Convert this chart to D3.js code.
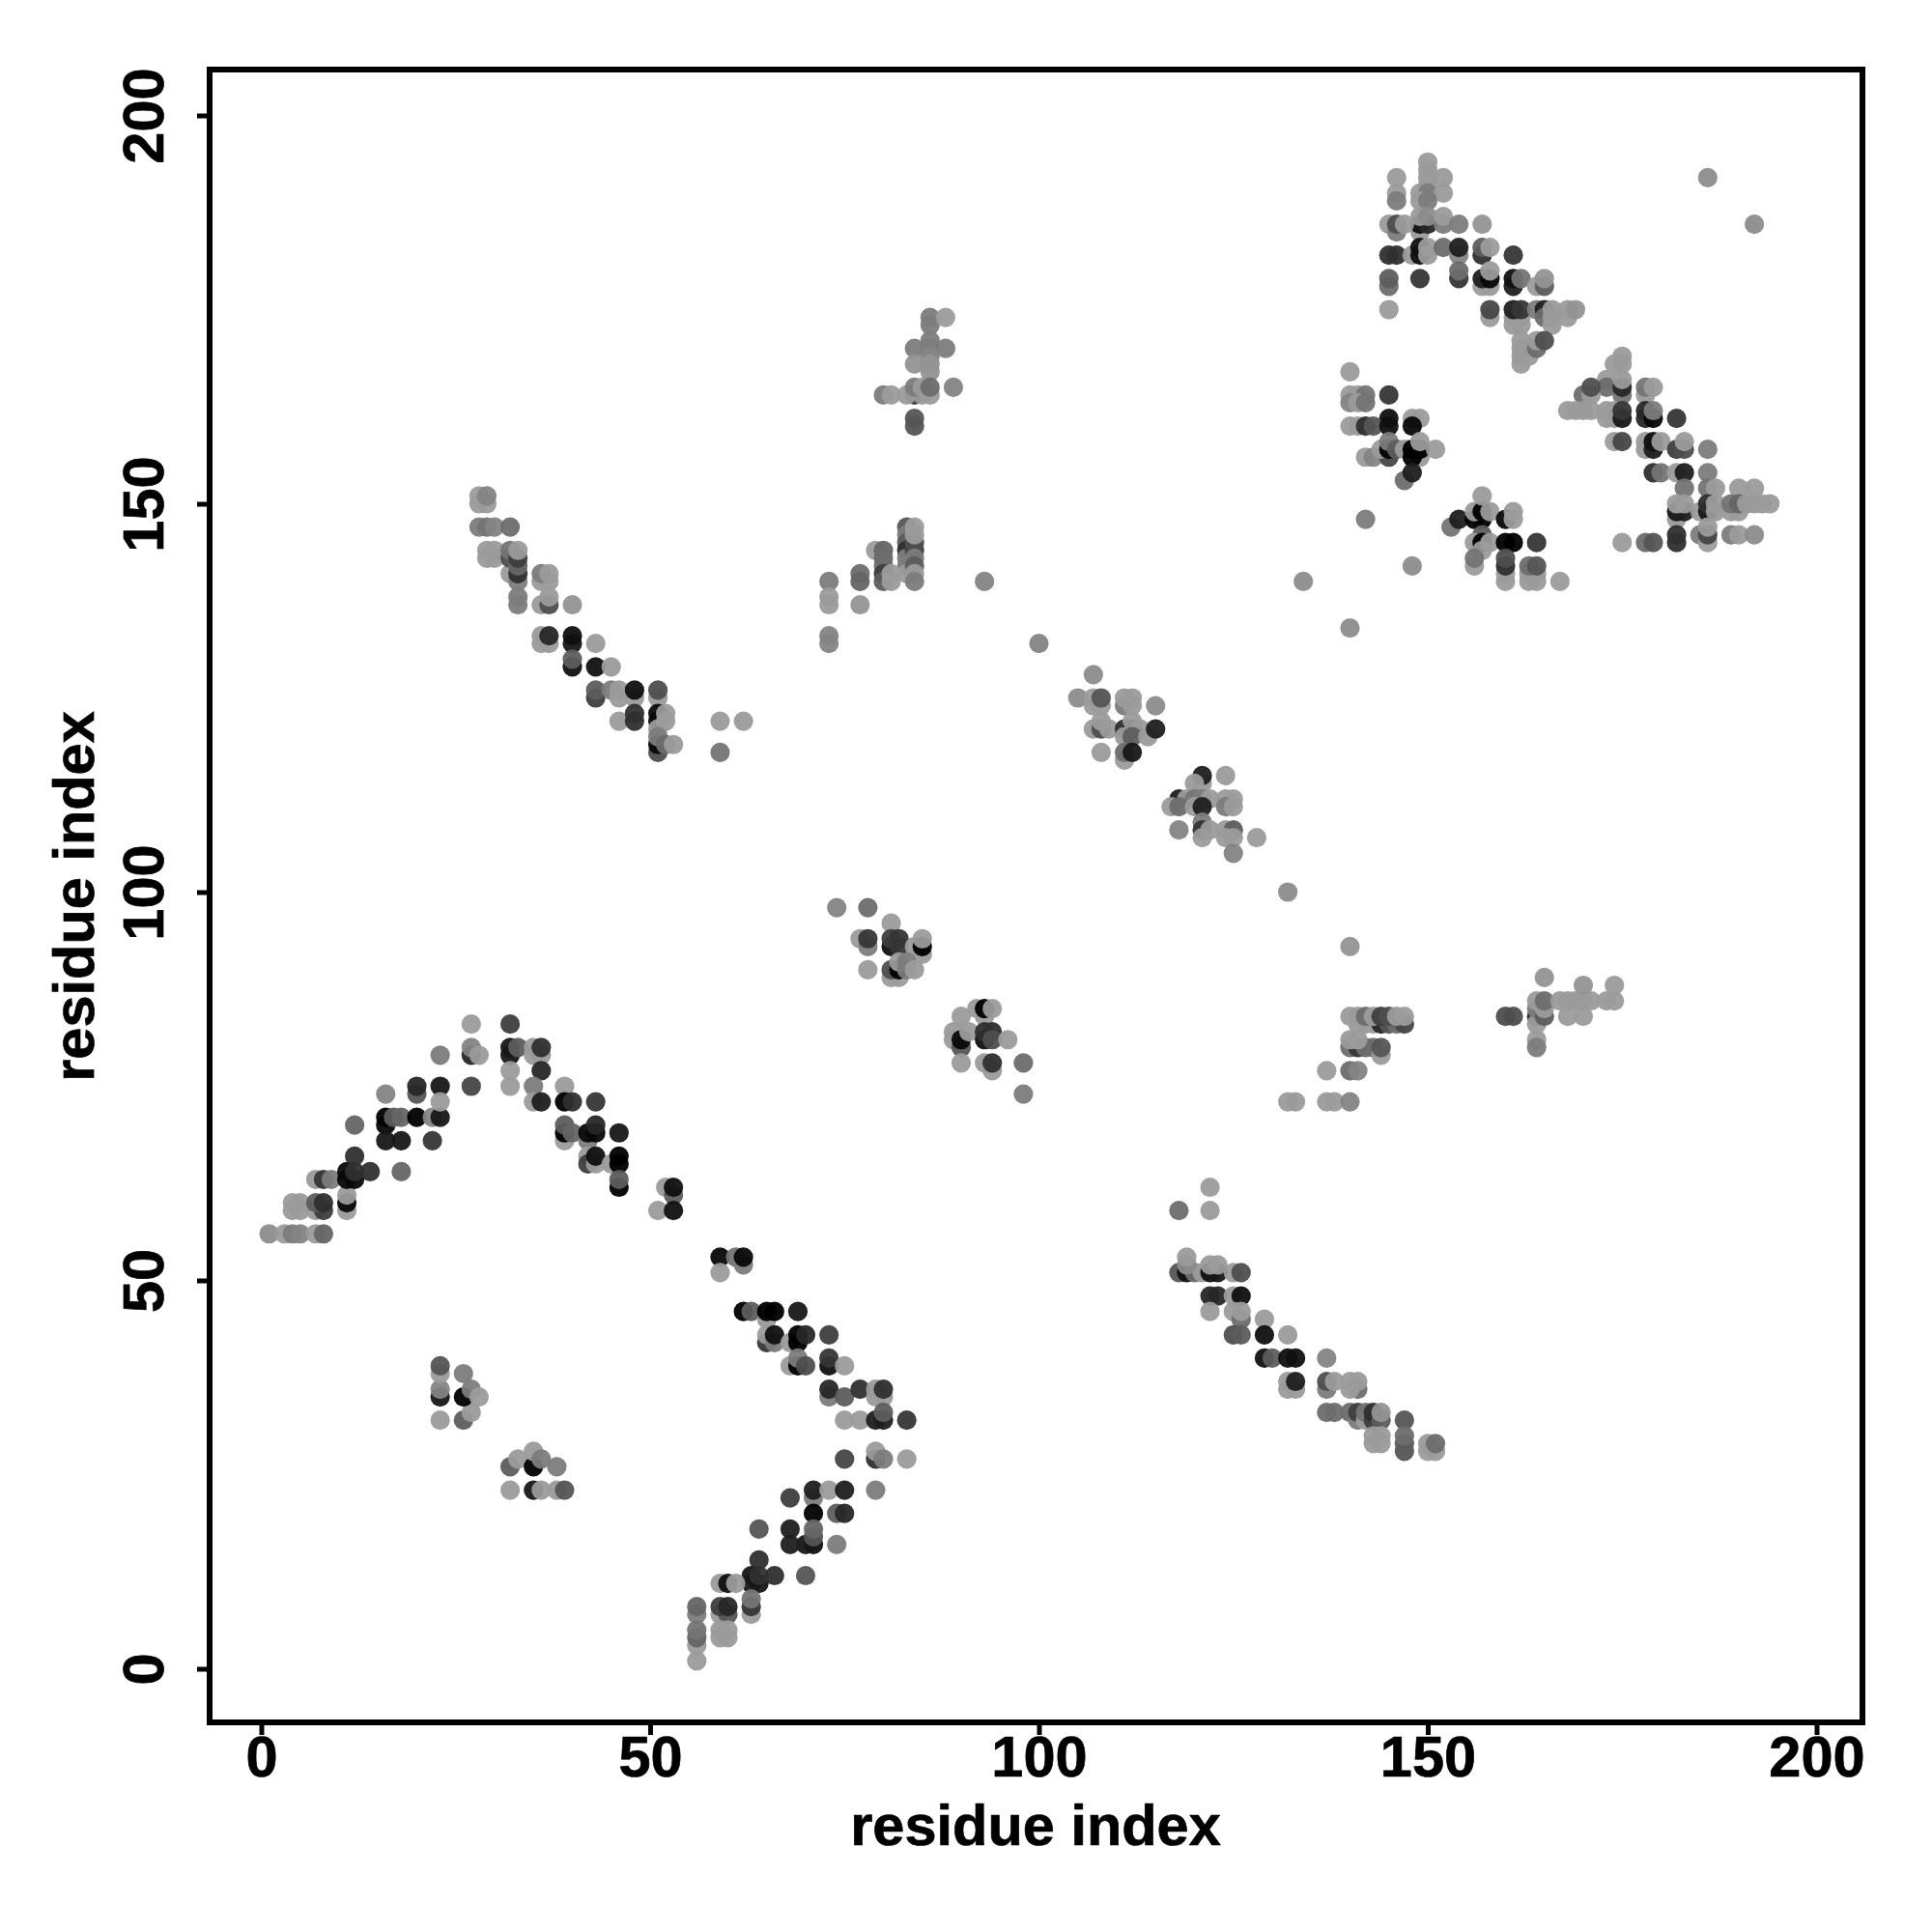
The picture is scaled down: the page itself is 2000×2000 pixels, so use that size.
<!DOCTYPE html>
<html><head><meta charset="utf-8">
<script src="https://cdn.jsdelivr.net/npm/d3@7"></script>
<style>html,body{margin:0;background:#fff}svg{display:block}text{font-family:"Liberation Sans",Arial,sans-serif;font-weight:700;fill:#000;stroke:#000;stroke-width:.7px}</style>
</head><body><div id="c"></div>
<script>
// each entry: [residue i, residue j, contact strength 0..1]
const armLowerLeft=[[1,56,.1],[3,56,0],[4,56,.2],[5,56,.15],[7,56,0],[8,56,.35],
[4,60,0],[5,60,0],[4,59,0],[5,59,0],[7,59,0],[8,59,.6],[7,60,.4],[8,60,.7],[11,59,0],[11,60,.95],[11,61,0],
[7,63,0],[8,63,.65],[9,63,.2],[11,63,.95],[11,64,.95],[12,63,.95],[12,64,.7],[12,66,.7],[14,64,.7],[18,64,.35],[12,70,.35],
[16,70,.95],[16,71,1],[17,71,.4],[18,71,.35],[20,71,1],[22,71,.15],[23,71,.85],[16,68,.85],[18,68,.85],[22,68,.65],[16,74,.15],
[20,74,.45],[20,75,.75],[23,75,.85],[23,73,0],[27,75,.55],[23,79,.2],[27,79,.75],[27,80,.15],[28,79,0],[27,83,0],
[32,83,.6],[32,79,.85],[32,80,.85],[33,80,.4],[35,79,0],[36,79,0],[35,80,0],[36,80,.7],[32,77,0],[36,77,.75],[32,75,0],[35,75,.2],[39,75,0],
[35,73,0],[36,73,.8],[39,73,1],[40,73,.7],[43,73,.65],[39,68,0],[39,69,1],[39,70,.4],[40,69,.35],[42,68,.2],[42,69,.95],[43,69,.95],[43,70,.75],[46,69,.85],
[42,66,0],[42,65,.6],[43,65,0],[43,66,.9],[45,65,0],[46,66,1],[46,65,1],[46,62,1],[46,63,.4],[52,62,0],[53,61,.4],[53,62,.9],[51,59,0],[53,59,.9]];
const armLowerMiddle=[[59,53,.95],[61,53,.25],[62,52,.2],[62,53,.95],[59,51,0],
[62,46,1],[63,46,.4],[65,45,0],[65,46,1],[66,46,1],[69,46,.85],[65,42,.65],[65,43,0],[66,42,.2],[66,43,.9],[68,42,0],[69,42,1],[69,43,1],[70,43,.75],[73,43,.6],
[68,39,0],[69,39,1],[69,40,.2],[70,39,.5],[73,39,.9],[73,40,.65],[75,39,0],[73,35,.2],[73,36,.75],[75,35,.4],[77,36,.7],[79,35,0],[79,36,0],[80,35,0],[80,36,.7],
[75,32,0],[77,32,0],[79,32,.8],[80,32,.8],[80,33,.4],[83,32,.65],[75,27,.55],[79,27,.7],[79,28,0],[80,27,.2],[83,27,0],
[71,22,.2],[71,23,.8],[73,23,0],[75,23,.8],[79,23,.2],[68,22,.6],[71,20,1],[74,20,.4],[75,20,.75],[64,18,.45],[68,18,.8],[71,16,.9],[70,16,.85],[71,17,.45],[71,18,.35],[68,16,.8],[74,16,.2],
[64,14,.7],[63,11,.85],[64,11,.85],[63,12,.85],[64,12,.7],[66,12,.7],[70,12,.45],[59,11,0],[60,11,.9],[61,11,0],[63,7,0],[63,8,.65],[63,9,.25],
[59,7,0],[60,7,.45],[59,8,.6],[60,8,.75],[56,7,.2],[56,8,.35],[56,3,0],[56,4,.35],[56,5,.25],[59,4,0],[60,4,0],[59,5,0],[60,5,0],[56,1,0]];
const patchLowerA=[[23,32,0],[23,35,.85],[23,36,.15],[23,38,0],[23,39,.45],[26,38,.2],[26,32,.4],[27,33,0],[26,35,1],[27,36,.2],[28,35,0]];
const patchLowerB=[[32,26,.4],[33,27,0],[32,23,0],[35,26,1],[35,28,0],[36,27,.2],[38,26,.2],[35,23,.85],[36,23,0],[38,23,0],[39,23,.45]];
const armUpperLeft=[[28,150,0],[29,150,0],[28,151,0],[29,151,.15],[28,147,.2],[29,147,.25],[30,147,.15],[32,147,.3],
[29,143,0],[30,143,0],[29,144,0],[30,144,0],[32,141,0],[32,143,.5],[32,144,.25],[33,140,.2],[33,141,.7],[33,142,.35],[33,143,.6],[33,144,0],[33,137,.2],[33,138,.2],
[36,140,0],[37,140,0],[36,141,.2],[37,141,0],[36,137,0],[37,137,.5],[37,138,0],[40,137,.05],[36,132,0],[37,132,0],[36,133,0],[37,133,.75],[40,132,.85],[40,133,.9],[43,132,0],
[40,129,.9],[40,130,.4],[43,129,.9],[45,129,0],[43,125,.6],[43,126,.4],[45,126,.2],[46,125,0],[46,126,0],[48,125,0],[48,126,.9],[51,125,0],[51,126,.5],
[46,122,0],[48,122,.7],[48,123,.7],[51,122,.95],[51,123,.95],[52,122,0],[52,123,0],[59,122,0],[62,122,0],[51,121,0],[51,118,.5],[51,119,.95],[51,120,.2],[52,119,.3],[53,119,0],[59,118,.25]];
const patchUpperMiddleTop=[[86,174,.2],[86,173,.2],[88,174,0],[86,171,.2],[86,170,.2],[84,170,.2],[88,170,.2],[86,169,.15],[84,168,.05],[86,168,.05],[86,167,.05],[84,164,.65],[80,164,.2],[81,164,0],[83,164,0],[85,164,0],[86,164,0],[84,165,.2],[85,165,0],[86,165,.3],[89,165,.15],[84,161,.45],[84,160,.45]];
const patchUpperMiddleLow=[[83,147,.45],[83,146,.2],[83,145,.4],[83,144,.7],[83,143,.2],[83,142,.2],[83,141,0],[84,144,.6],[84,145,.5],[84,143,.2],[84,142,.4],[84,141,0],[84,140,.2],[84,146,0],[84,147,0],
[79,144,0],[80,144,.35],[80,143,.3],[80,142,.3],[80,141,.6],[80,140,.4],[81,141,0],[81,140,0],[77,141,.3],[77,140,.35],[77,137,.05],[73,140,.2],[73,138,0],[73,137,0],[73,133,.15],[73,132,.15],[93,140,.15]];
const singles=[[100,132,.15],[132,100,.1],[134,140,.1],[140,134,.1],[140,93,.05],[142,148,.2],[148,142,.1],[186,192,.1],[192,186,.1]];
const patchCentreA=[[107,128,.1],[105,125,.1],[107,125,0],[107,124,0],[108,124,0],[108,125,.45],[111,124,.2],[111,125,0],[112,125,0],[112,124,0],[115,124,.1],[107,121,0],[108,121,.5],[108,122,0],[109,121,0],[111,121,.7],[112,121,1],[112,122,0],[113,121,0],[111,120,0],[112,120,.4],[114,120,0],[115,121,.8],[108,118,0],[111,117,0],[111,118,.3],[112,118,.85]];
const patchCentreB=[[121,114,0],[121,115,.8],[124,115,0],[120,114,0],[118,112,.8],[119,112,0],[120,112,.25],[121,112,.2],[122,112,0],[124,112,0],[125,112,0],[117,111,0],[118,111,.3],[120,111,0],[121,111,.8],[124,111,.2],[125,111,0],[121,109,.2],[118,108,.15],[121,108,.65],[122,108,0],[124,108,0],[125,108,.4],[128,107,0],[121,107,0],[124,107,0],[125,107,0],[125,105,.15]];
const patchMiddleA=[[74,98,.15],[78,98,.3],[81,96,0],[77,94,0],[78,93,.2],[78,94,.65],[81,93,.9],[81,94,.6],[82,94,.65],[82,93,.65],[84,93,0],[85,92,0],[85,93,1],[85,94,0],[81,89,0],[82,89,0],[78,90,0],[81,90,.5],[82,90,1],[82,91,0],[83,90,.2],[83,91,.2],[84,90,0]];
const patchMiddleB=[[92,85,0],[93,84,0],[93,85,1],[94,85,0],[90,84,0],[89,81,0],[89,82,0],[90,80,.45],[90,81,.95],[91,82,0],[93,81,.9],[93,82,.7],[94,82,.7],[94,81,.5],[96,81,0],[90,78,0],[93,78,0],[94,77,0],[94,78,.7],[98,78,.3],[98,74,.2]];
const armMiddleRight=[[118,59,.3],[122,59,0],[122,62,0],[118,51,.45],[119,51,.9],[120,51,.3],[121,51,0],[122,51,.9],[123,51,.85],[125,51,0],[126,51,.5],[119,52,.1],[119,53,0],[122,52,0],[123,52,0],
[122,48,.75],[123,48,.75],[125,48,0],[126,48,.9],[122,46,0],[125,46,0],[126,45,.3],[126,46,0],[125,43,.5],[126,43,.4],[129,45,0],[129,43,.9],[132,43,0],
[129,40,.9],[130,40,.4],[132,40,.9],[133,40,.9],[137,40,.15],[132,36,0],[133,36,0],[132,37,0],[133,37,.8],[137,36,.2],[137,37,.5],[138,37,0],[141,36,.3],[140,36,0],[140,37,0],[141,37,0],
[137,33,.3],[138,33,.3],[140,33,.3],[141,32,.2],[141,33,.6],[142,32,0],[142,33,.25],[143,32,.6],[143,33,.7],[144,32,.4],[144,33,.05],[147,32,.45],[143,30,0],[144,30,0],[143,29,0],[144,29,0],[147,28,.45],[147,29,.4],[147,30,.3],[150,28,0],[151,28,0],[150,29,0],[151,29,.3]];
const patchRightA=[[133,73,0],[132,73,0],[137,73,0],[138,73,0],[140,73,.15],[137,77,0],[140,77,.3],[141,77,.15],[140,80,.3],[141,80,.65],[142,80,.3],[143,80,.3],[144,79,0],[144,80,.45],[140,81,0],[141,81,0],
[141,83,0],[142,83,0],[143,83,0],[144,83,.75],[145,83,.45],[146,83,.3],[147,83,.55],[140,84,0],[141,84,0],[142,84,.3],[143,84,0],[144,84,.6],[145,84,.5],[146,84,0],[147,84,0]];
const patchRightB=[[160,84,.5],[161,84,.5],[164,84,.7],[164,83,0],[164,81,0],[164,80,.2],[164,85,.2],[164,86,0],[165,84,.4],[165,85,0],[165,86,.3],[165,89,.05],[167,86,0],[168,86,0],[169,86,0],[170,86,0],[171,86,0],[173,86,0],[174,86,0],[168,84,0],[170,84,0],[170,88,.05],[174,88,0]];
const patchUpperRightTop=[[150,194,0],[150,193,0],[146,192,0],[150,192,0],[152,192,0],[150,191,0],[146,190,0],[149,190,0],[150,190,.2],[152,190,0],[146,189,.2],[149,189,0],[150,189,.2],[149,185,0],[149,186,.9],[150,186,.75],[149,187,0],[150,187,.1],[152,186,.2],[152,187,0],[145,186,0],[146,185,.2],[146,186,.5],[147,186,0],[154,186,.2],[157,186,.05],
[145,182,.7],[146,182,.7],[148,182,0],[149,182,.9],[149,183,.9],[150,182,0],[150,183,0],[152,183,.3],[154,182,.15],[154,183,.8],[157,182,.7],[157,183,.4],[158,183,0],[161,182,.65],[145,178,.3],[145,179,.4],[149,179,.65],[154,179,.65],[154,180,.3],[157,178,0],[158,178,0],[157,179,.8],[158,179,.95],[158,180,0],[161,178,.8],[161,179,.9],[162,179,.25],[164,178,0],[165,178,.4],[165,179,.05],[145,175,0]];
const patchUpperRightLow=[[158,174,0],[158,175,.55],[161,173,0],[162,173,0],[161,174,0],[162,174,0],[161,175,.8],[162,175,.65],[164,175,.2],[165,175,.8],[165,174,.3],[166,173,0],[166,174,0],[166,175,0],[168,174,0],[168,175,0],[169,175,.05],[162,171,0],[162,170,0],[162,169,0],[162,168,0],[163,169,0],[164,170,.3],[164,171,0],[165,171,.5]];
const patchDiagonalFar=[[175,169,0],[174,168,0],[175,168,0],[173,166,0],[173,165,.3],[175,164,.25],[175,165,.75],[175,166,0],[170,164,.3],[171,164,0],[171,165,.5],[178,164,0],[178,165,.25],[179,165,0],
[168,162,0],[169,162,0],[170,162,0],[171,162,0],[173,162,0],[174,162,0],[173,161,0],[174,161,0],[175,161,.85],[175,162,.65],[178,161,.75],[178,162,.75],[179,161,.95],[179,162,.2],[182,161,.65],
[174,158,0],[175,158,.55],[178,157,0],[178,158,0],[179,157,.8],[179,158,.9],[180,158,0],[182,157,.6],[183,157,.5],[183,158,0],[186,157,.2],
[179,154,.7],[180,154,.25],[182,154,0],[183,154,.8],[186,154,.2],[183,152,.25],[186,152,.25],[187,152,0],[190,152,0],[192,152,0]];
const patchFarRight=[[182,148,0],[182,149,.85],[183,149,.8],[182,150,0],[183,150,0],[185,149,0],[186,149,.85],[186,150,.7],[187,149,0],[187,150,0],[189,149,0],[190,149,0],[189,150,.25],[190,150,.35],[191,150,0],[192,150,0],[193,150,0],[194,150,0],
[175,145,0],[178,145,.3],[179,145,.45],[182,145,.7],[182,146,.7],[185,146,.2],[186,145,0],[186,146,.55],[186,147,0],[189,146,.2],[190,146,0],[192,146,.1]];
const patchLowerRightCluster=[[140,167,0],[140,164,0],[141,164,0],[142,164,.25],[145,164,.65],[140,163,.15],[141,163,0],[142,163,.25],[145,161,.9],[148,161,0],[149,161,0],[140,160,0],[141,160,0],[142,160,.7],[143,160,.45],[145,160,.9],[148,160,.95],
[142,156,0],[143,156,.15],[145,156,.55],[144,157,0],[145,157,1],[145,158,.2],[146,157,.4],[147,157,0],[149,156,0],[148,156,1],[148,157,1],[149,157,1],[149,158,0],[151,157,0],[147,153,.3],[148,154,.8]];
const patchLowerRightLow=[[153,147,.25],[154,148,.8],[156,148,1],[157,148,1],[156,149,0],[157,149,1],[157,151,0],[158,149,0],[160,148,.95],[161,148,0],[161,149,0],[157,146,.4],[156,145,0],[157,145,1],[158,145,0],[160,145,1],[161,145,1],[164,145,.65],[157,144,0],[156,142,0],[156,143,.25],[160,140,0],[160,141,0],[160,142,.7],[160,143,.5],[163,140,0],[164,140,0],[163,141,0],[164,141,0],[163,142,.3],[164,142,.45],[167,140,0]];

const tickValues=[0,50,100,150,200];
const axisTitle="residue index";

const allContacts=[armLowerLeft,armLowerMiddle,patchLowerA,patchLowerB,armUpperLeft,patchUpperMiddleTop,patchUpperMiddleLow,singles,patchCentreA,patchCentreB,patchMiddleA,patchMiddleB,armMiddleRight,patchRightA,patchRightB,patchUpperRightTop,patchUpperRightLow,patchDiagonalFar,patchFarRight,patchLowerRightCluster,patchLowerRightLow].flat();

const svg=d3.select("#c").append("svg").attr("width",2000).attr("height",2000);
const frame={l:217,t:72,r:1928,b:1783};
const x=d3.scaleLinear().domain([0,200]).range([270.5,1880.5]);
const y=d3.scaleLinear().domain([0,200]).range([1727.5,119.5]);
const shade=d3.scaleLinear().domain([0,1]).range(["#9b9b9b","#000000"]);

svg.append("g").selectAll("circle").data(allContacts).join("circle")
 .attr("cx",d=>x(d[0])).attr("cy",d=>y(d[1])).attr("r",10.1)
 .attr("fill",d=>shade(d[2])).attr("fill-opacity",.95);

svg.append("rect").attr("x",frame.l).attr("y",frame.t).attr("width",frame.r-frame.l).attr("height",frame.b-frame.t)
 .attr("fill","none").attr("stroke","#000").attr("stroke-width",6);

const gx=svg.append("g").attr("transform",`translate(0,${frame.b})`).call(d3.axisBottom(x).tickValues(tickValues).tickSize(13).tickPadding(0));
const gy=svg.append("g").attr("transform",`translate(${frame.l},0)`).call(d3.axisLeft(y).tickValues(tickValues).tickSize(13).tickPadding(0));
gx.select(".domain").remove();gy.select(".domain").remove();
svg.selectAll(".tick line").attr("stroke","#000").attr("stroke-width",5);
gx.selectAll("text").attr("y",0).attr("dy",0).attr("transform","translate(0,56)").attr("text-anchor","middle").style("font-size","59.5px").style("font-family",'"Liberation Sans"').style("font-weight",700);
gy.selectAll("text").attr("x",0).attr("dy",0).attr("transform","translate(-48,0) rotate(-90)").attr("text-anchor","middle").style("font-size","59.5px").style("font-family",'"Liberation Sans"').style("font-weight",700);

svg.append("text").attr("x",1072).attr("y",1910).attr("text-anchor","middle").style("font-size","59.5px").text(axisTitle);
svg.append("text").attr("transform","translate(97,928) rotate(-90)").attr("text-anchor","middle").style("font-size","59.5px").text(axisTitle);
</script></body></html>
